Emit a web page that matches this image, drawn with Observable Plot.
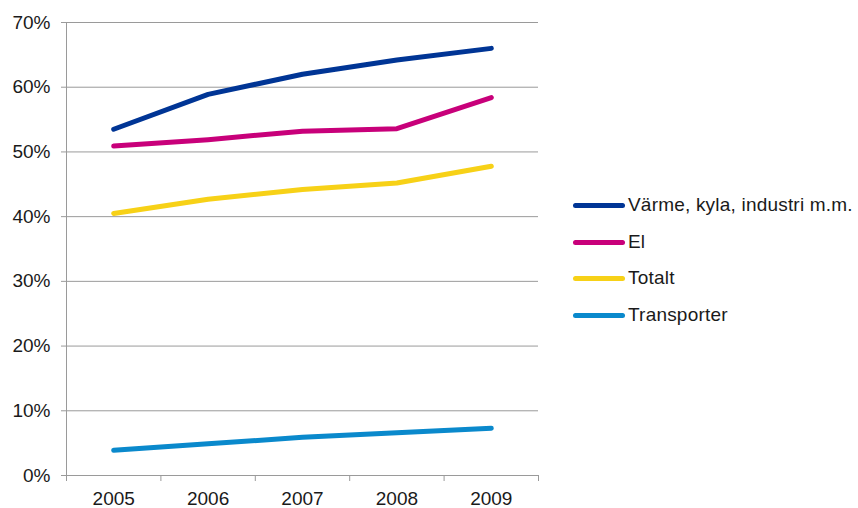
<!DOCTYPE html>
<html>
<head>
<meta charset="utf-8">
<script src="https://cdn.jsdelivr.net/npm/d3@7"></script>
<script src="https://cdn.jsdelivr.net/npm/@observablehq/plot@0.6"></script>
<style>
  body { margin: 0; background: #fff; }
  #wrap { position: relative; width: 858px; height: 508px; }
  #legend { position: absolute; left: 573px; top: 0; font-family: "Liberation Sans", Arial, sans-serif; font-size: 19px; color: #1a1a1a; letter-spacing: 0.2px; }
  .item { position: absolute; left: 0; white-space: nowrap; display: flex; align-items: center; height: 24px; }
  .swatch { width: 52px; height: 5px; border-radius: 3px; margin-right: 3px; }
</style>
</head>
<body>
<div id="wrap"><div id="legend"></div></div>
<script>
const years = [2005, 2006, 2007, 2008, 2009];
const seriesNames = ["Värme, kyla, industri m.m.", "El", "Totalt", "Transporter"];
const varme = [0.535, 0.589, 0.620, 0.642, 0.660];
const el = [0.509, 0.519, 0.532, 0.536, 0.584];
const totalt = [0.405, 0.427, 0.442, 0.452, 0.478];
const transporter = [0.039, 0.049, 0.059, 0.066, 0.073];
const colors = ["#003595", "#C8007A", "#F7D117", "#0A89CC"];
const yTicks = [0, 0.1, 0.2, 0.3, 0.4, 0.5, 0.6, 0.7];
const xBoundaries = [2004.5, 2005.5, 2006.5, 2007.5, 2008.5, 2009.5];

const seriesValues = [varme, el, totalt, transporter];
const data = seriesNames.flatMap((name, i) =>
  years.map((year, j) => ({ series: name, year, value: seriesValues[i][j] })));

const chart = Plot.plot({
  width: 858,
  height: 508,
  marginLeft: 66,
  marginRight: 320,
  marginTop: 22,
  marginBottom: 33,
  x: { domain: [2004.5, 2009.5], label: null },
  y: { domain: [0, 0.7], label: null },
  color: { domain: seriesNames, range: colors },
  style: { fontFamily: "'Liberation Sans', Arial, sans-serif", fontSize: "19px", color: "#1a1a1a", background: "#fff", overflow: "visible" },
  marks: [
    Plot.gridY(yTicks, { stroke: "#9a9a9a", strokeOpacity: 1, strokeWidth: 1 }),
    Plot.ruleX([2004.5], { stroke: "#9a9a9a", strokeWidth: 1 }),
    Plot.ruleY([0], { stroke: "#9a9a9a", strokeWidth: 1 }),
    Plot.axisY(yTicks, { tickFormat: d3.format(".0%"), tickSize: 5, tickPadding: 11, stroke: "#9a9a9a", fill: "#1a1a1a", fontSize: 19, label: null }),
    Plot.axisX(years, { tickFormat: d => String(d), tickSize: 0, tickPadding: 16, fill: "#1a1a1a", fontSize: 19, label: null }),
    Plot.axisX(xBoundaries, { tickFormat: () => "", tickSize: 6, stroke: "#9a9a9a", label: null }),
    Plot.line(data, { x: "year", y: "value", z: "series", stroke: "series", strokeWidth: 5, strokeLinecap: "round", strokeLinejoin: "round" })
  ]
});
document.getElementById("wrap").prepend(chart);

const legend = document.getElementById("legend");
const rowCenters = [205, 242, 278, 315];
seriesNames.forEach((name, i) => {
  const item = document.createElement("div");
  item.className = "item";
  item.style.top = (rowCenters[i] - 12) + "px";
  const sw = document.createElement("span");
  sw.className = "swatch";
  sw.style.background = colors[i];
  const label = document.createElement("span");
  label.textContent = name;
  item.append(sw, label);
  legend.append(item);
});
</script>
</body>
</html>
